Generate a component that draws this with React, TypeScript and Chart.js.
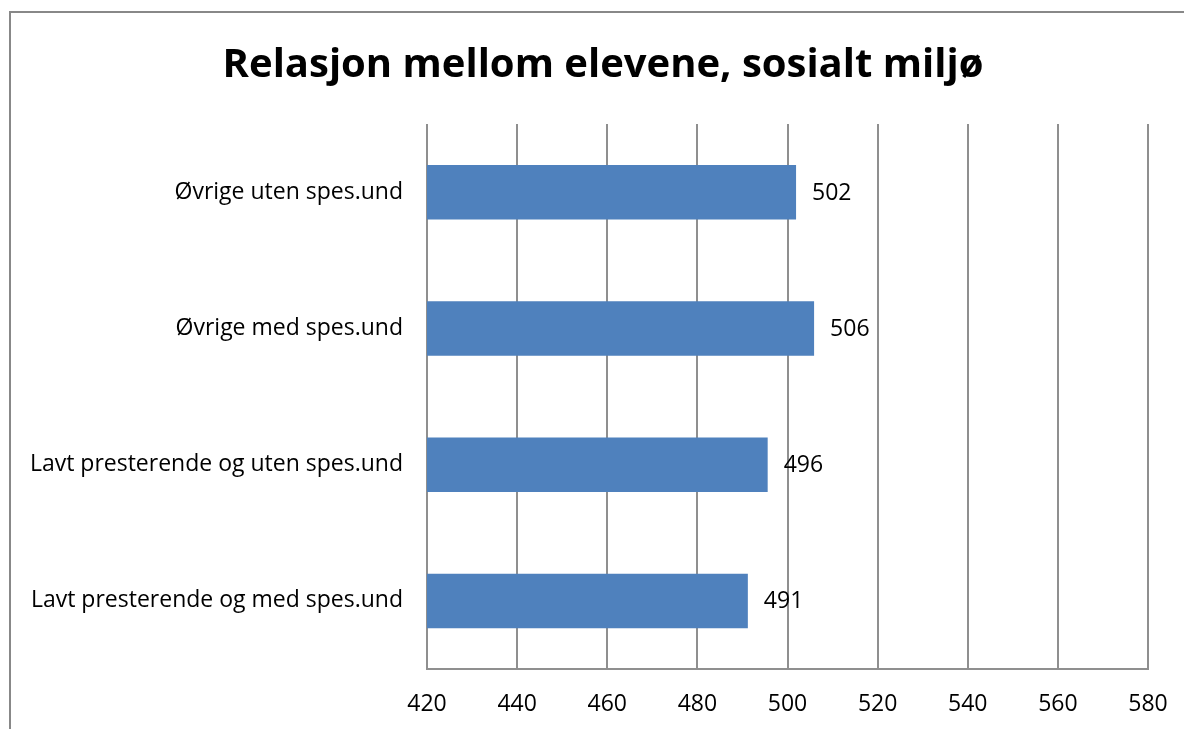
import React, { useEffect, useRef } from 'react';
import { Chart, registerables } from 'chart.js';

Chart.register(...registerables);

const titleText = 'Relasjon mellom elevene, sosialt miljø';
const categories = [
  'Øvrige uten spes.und',
  'Øvrige med spes.und',
  'Lavt presterende og uten spes.und',
  'Lavt presterende og med spes.und',
];
const values = [501.9, 505.9, 495.6, 491.2];
const axisMin = 420;
const axisMax = 580;
const axisStep = 20;

const FONT = '"Open Sans"';
const GRID = '#8f8f8f';

const valueLabelPlugin = {
  id: 'valueLabels',
  afterDatasetsDraw(chart: any) {
    const ctx = chart.ctx;
    const meta = chart.getDatasetMeta(0);
    ctx.save();
    ctx.font = `23px ${FONT}`;
    ctx.fillStyle = '#000';
    ctx.textAlign = 'left';
    ctx.textBaseline = 'middle';
    meta.data.forEach((bar: any, i: number) => {
      ctx.fillText(String(Math.round(values[i])), bar.x + 16, bar.y + 1);
    });
    ctx.restore();
  },
};

const titlePlugin = {
  id: 'centeredTitle',
  afterDraw(chart: any) {
    const ctx = chart.ctx;
    ctx.save();
    ctx.font = `bold 40px ${FONT}`;
    ctx.fillStyle = '#000';
    ctx.textAlign = 'center';
    ctx.textBaseline = 'alphabetic';
    ctx.fillText(titleText, 603, 77);
    ctx.restore();
  },
};

export default function App() {
  const ref = useRef<HTMLCanvasElement>(null);

  useEffect(() => {
    document.body.style.margin = '0';
    const chart = new Chart(ref.current!, {
      type: 'bar',
      data: {
        labels: categories,
        datasets: [
          {
            data: values,
            backgroundColor: '#4F81BD',
            borderWidth: 0,
            barPercentage: 0.4,
            categoryPercentage: 1,
          },
        ],
      },
      plugins: [valueLabelPlugin, titlePlugin],
      options: {
        indexAxis: 'y',
        animation: false,
        responsive: false,
        layout: { padding: { left: 0, right: 36, top: 124, bottom: 0 } },
        plugins: {
          legend: { display: false },
          tooltip: { enabled: false },
          title: { display: false },
        },
        scales: {
          x: {
            type: 'linear',
            min: axisMin,
            max: axisMax,
            ticks: {
              stepSize: axisStep,
              color: '#000',
              font: { family: FONT, size: 23 },
              padding: 22,
            },
            grid: { color: GRID, lineWidth: 2, drawTicks: false },
            border: { display: true, color: GRID, width: 2 },
            afterFit(scale: any) {
              scale.height = 60;
              scale.paddingLeft = 0;
              scale.paddingRight = 0;
            },
          },
          y: {
            ticks: {
              color: '#000',
              font: { family: FONT, size: 23 },
              padding: 24,
            },
            grid: { display: false, drawTicks: false },
            border: { display: false },
            afterFit(scale: any) {
              scale.width = 427;
            },
          },
        },
      },
    });
    return () => chart.destroy();
  }, []);

  return (
    <div style={{ position: 'relative', width: 1184, height: 729, overflow: 'hidden', background: '#fff' }}>
      <div
        style={{
          position: 'absolute',
          left: 9,
          top: 11,
          width: 1300,
          height: 900,
          border: '2px solid #888',
          boxSizing: 'border-box',
        }}
      />
      <canvas ref={ref} width={1184} height={729} style={{ position: 'absolute', left: 0, top: 0 }} />
    </div>
  );
}
